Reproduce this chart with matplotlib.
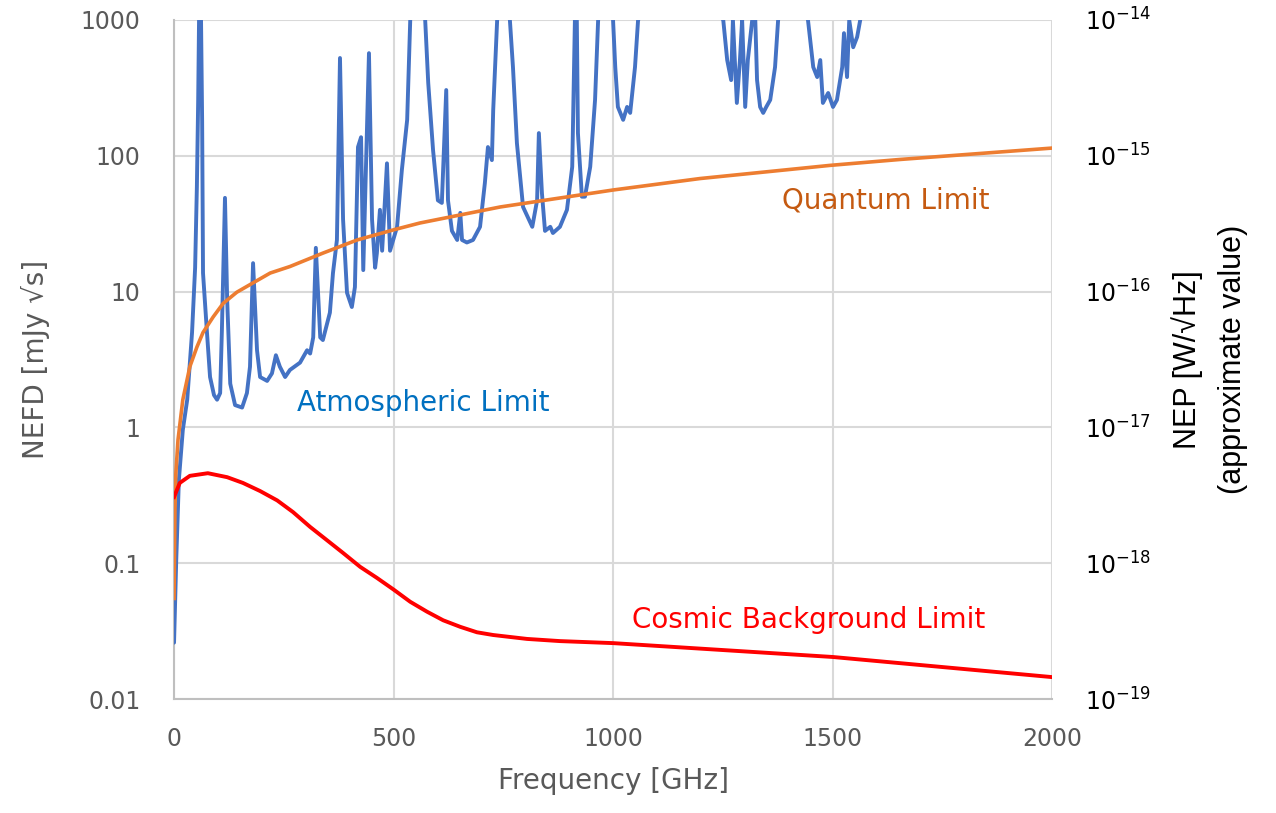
import numpy as np
import matplotlib
matplotlib.use("Agg")
import matplotlib.pyplot as plt

plt.rcParams['font.family'] = ['DejaVu Sans']
plt.rcParams['mathtext.default'] = 'regular'

# Atmospheric limit (GHz, mJy sqrt(s))
atm_freq = [0, 5, 11, 20, 30, 41, 48, 52, 55, 57, 59, 61.5, 64, 66, 75, 82, 91, 98,
            105, 109, 116, 121, 128, 139, 155, 166, 173, 180, 189, 196, 212, 223,
            232, 241, 253, 264, 287, 303, 310, 317, 323, 333, 339, 355, 362, 371,
            378, 385, 394, 405, 412, 419, 426, 431, 444, 451, 458, 462, 469, 474,
            485, 492, 508, 519, 531, 538, 547, 565, 572, 579, 590, 601, 610, 620,
            624, 633, 645, 652, 656, 667, 681, 697, 708, 715, 724, 727, 736, 750,
            765, 772, 781, 795, 816, 827, 831, 838, 845, 857, 863, 879, 895, 907,
            909, 913, 916, 920, 929, 936, 948, 959, 966, 990, 1000, 1005, 1011,
            1023, 1032, 1039, 1050, 1057, 1150, 1251, 1260, 1269, 1273, 1282, 1289,
            1294, 1301, 1307, 1317, 1324, 1328, 1335, 1342, 1349, 1358, 1369, 1376,
            1400, 1444, 1456, 1465, 1472, 1478, 1490, 1501, 1510, 1522, 1526, 1533,
            1538, 1547, 1556, 1563, 1575]
atm_nefd = [0.026, 0.106, 0.41, 0.96, 1.6, 5.0, 15, 59, 260, 1000, 5000, 1000, 180,
            13.7, 5.0, 2.35, 1.73, 1.6, 1.79, 5.2, 49, 8.7, 2.1, 1.46, 1.4, 1.79,
            2.8, 16.2, 3.7, 2.35, 2.2, 2.5, 3.4, 2.8, 2.35, 2.65, 3.0, 3.7, 3.5,
            4.6, 21, 4.6, 4.4, 7.0, 13.7, 24, 525, 34, 9.8, 7.7, 10.8, 116, 137,
            14.4, 570, 34, 15, 19.2, 40, 20, 88, 20, 30, 79, 184, 1000, 3000, 3000,
            1000, 344, 110, 47, 45, 305, 47, 28, 24, 38, 24, 23, 24, 30, 63, 116,
            93, 217, 1000, 3000, 1000, 450, 124, 42, 30, 47, 147, 53, 28, 30, 27,
            30, 40, 83, 193, 1000, 3000, 147, 50, 50, 83, 258, 1000, 3000, 1000,
            450, 229, 184, 229, 207, 450, 1000, 3000, 1000, 507, 361, 1000, 245,
            507, 1000, 229, 507, 1000, 1000, 361, 229, 207, 229, 258, 450, 1000,
            3000, 1000, 450, 380, 507, 245, 290, 229, 258, 450, 800, 380, 1000, 630,
            750, 1000, 3000]

# Quantum limit
qnt_freq = [0, 2, 4, 9, 20, 36, 52, 66, 89, 112, 143, 180, 219, 264, 339, 417,
            500, 560, 743, 1000, 1198, 1494, 1654, 2000]
qnt_nefd = [0.055, 0.25, 0.45, 0.81, 1.6, 2.8, 3.9, 5.0, 6.5, 8.2, 9.9, 11.6,
            13.7, 15.3, 19.2, 24, 28.5, 32, 42, 56, 68, 85, 94, 114]

# Cosmic background limit
cmb_freq = [0, 13, 36, 77, 121, 157, 196, 235, 271, 310, 348, 385, 424, 462,
            500, 538, 576, 613, 652, 690, 727, 804, 879, 1000, 1500, 2000]
cmb_nefd = [0.307, 0.39, 0.44, 0.46, 0.43, 0.39, 0.34, 0.29, 0.238, 0.185, 0.148,
            0.119, 0.094, 0.078, 0.064, 0.052, 0.044, 0.038, 0.034, 0.031, 0.0296,
            0.0277, 0.0267, 0.0258, 0.0204, 0.0145]

left_ticks = [0.01, 0.1, 1, 10, 100, 1000]
left_labels = ['0.01', '0.1', '1', '10', '100', '1000']
right_ticks = [1e-19, 1e-18, 1e-17, 1e-16, 1e-15, 1e-14]
right_labels = [r'$10^{-19}$', r'$10^{-18}$', r'$10^{-17}$', r'$10^{-16}$',
                r'$10^{-15}$', r'$10^{-14}$']
x_ticks = [0, 500, 1000, 1500, 2000]

grey = '#595959'

fig = plt.figure(figsize=(12.76, 8.13), dpi=100)
ax = fig.add_axes([0.1364, 0.1402, 0.6881, 0.8352])

ax.plot(atm_freq, atm_nefd, color='#4472C4', lw=2.8, solid_joinstyle='round',
        solid_capstyle='round', zorder=3)
ax.plot(qnt_freq, qnt_nefd, color='#ED7D31', lw=2.6, solid_joinstyle='round', zorder=4)
ax.plot(cmb_freq, cmb_nefd, color='#FF0000', lw=2.8, solid_joinstyle='round', zorder=4)

ax.set_yscale('log')
ax.set_xlim(0, 2000)
ax.set_ylim(0.01, 1000)
ax.set_xticks(x_ticks)
ax.set_yticks(left_ticks)
ax.set_yticklabels(left_labels)
ax.minorticks_off()
ax.grid(True, color='#D9D9D9', lw=1.5)
ax.set_axisbelow(True)
for s in ['top', 'right']:
    ax.spines[s].set_visible(False)
for s in ['left', 'bottom']:
    ax.spines[s].set_color('#BFBFBF')
    ax.spines[s].set_linewidth(1.5)
ax.tick_params(axis='both', length=0, labelsize=17, colors=grey)
ax.tick_params(axis='y', pad=24)
ax.tick_params(axis='x', pad=20)
ax.set_xlabel('Frequency [GHz]', fontsize=20, color=grey, labelpad=12)
ax.set_ylabel('NEFD [mJy √s]', fontsize=20, color=grey, labelpad=22)

ax.text(280, 1.5, 'Atmospheric Limit', color='#0070C0', fontsize=20, va='center')
ax.text(1385, 47, 'Quantum Limit', color='#C55A11', fontsize=20, va='center')
ax.text(1043, 0.038, 'Cosmic Background Limit', color='#FF0000', fontsize=20, va='center')

ax2 = ax.twinx()
ax2.set_yscale('log')
ax2.set_ylim(1e-19, 1e-14)
ax2.set_yticks(right_ticks)
ax2.set_yticklabels(right_labels)
ax2.minorticks_off()
for s in ax2.spines.values():
    s.set_visible(False)
ax2.tick_params(axis='y', length=0, labelsize=17, colors='black', pad=24)
ax2.set_ylabel('NEP [W/√Hz]\n(approximate value)', fontsize=22, color='black',
               labelpad=14, family=['Liberation Sans', 'DejaVu Sans'],
               linespacing=1.65)

fig.savefig('out.png', dpi=100)
